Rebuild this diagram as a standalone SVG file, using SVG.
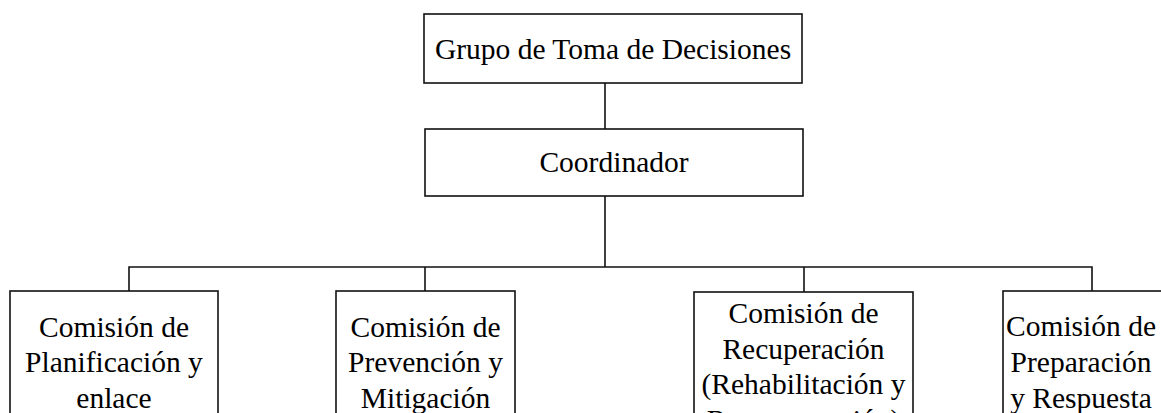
<svg xmlns="http://www.w3.org/2000/svg" width="1161" height="413" viewBox="0 0 1161 413">
<style>
.box{fill:#fff;stroke:#111;stroke-width:1.6}
.t{font-family:"Liberation Serif","Times New Roman",serif;font-size:29.5px;fill:#000;text-anchor:middle}
.c{fill:none;stroke:#111;stroke-width:1.6}
</style>
<rect width="1161" height="413" fill="#fff"/>
<g id="connectors">
<line class="c" x1="605" y1="83" x2="605" y2="129"/>
<line class="c" x1="605" y1="196" x2="605" y2="267"/>
<polyline class="c" points="129,291 129,267 1092,267 1092,291"/>
<line class="c" x1="425" y1="267" x2="425" y2="291"/>
<line class="c" x1="804" y1="267" x2="804" y2="292"/>
</g>
<g id="n-grupo">
<rect class="box" x="424" y="14" width="378" height="69"/>
<text class="t" x="613" y="59">Grupo de Toma de Decisiones</text>
</g>
<g id="n-coordinador">
<rect class="box" x="425" y="129" width="378" height="67"/>
<text class="t" x="614" y="172">Coordinador</text>
</g>
<g id="n-planificacion">
<rect class="box" x="10" y="291" width="208" height="140"/>
<text class="t" x="114" y="337">Comisión de</text>
<text class="t" x="114" y="372">Planificación y</text>
<text class="t" x="114" y="408">enlace</text>
</g>
<g id="n-prevencion">
<rect class="box" x="336" y="291" width="179" height="140"/>
<text class="t" x="425.5" y="337">Comisión de</text>
<text class="t" x="425.5" y="372">Prevención y</text>
<text class="t" x="425.5" y="408">Mitigación</text>
</g>
<g id="n-recuperacion">
<rect class="box" x="694" y="292" width="219" height="140"/>
<text class="t" x="803.5" y="323">Comisión de</text>
<text class="t" x="803.5" y="358.5">Recuperación</text>
<text class="t" x="803.5" y="394">(Rehabilitación y</text>
<text class="t" x="803.5" y="429.5">Reconstrucción)</text>
</g>
<g id="n-preparacion">
<rect class="box" x="1003" y="291" width="170" height="140"/>
<text class="t" x="1081" y="336">Comisión de</text>
<text class="t" x="1081" y="372">Preparación</text>
<text class="t" x="1081" y="408">y Respuesta</text>
</g>
</svg>
